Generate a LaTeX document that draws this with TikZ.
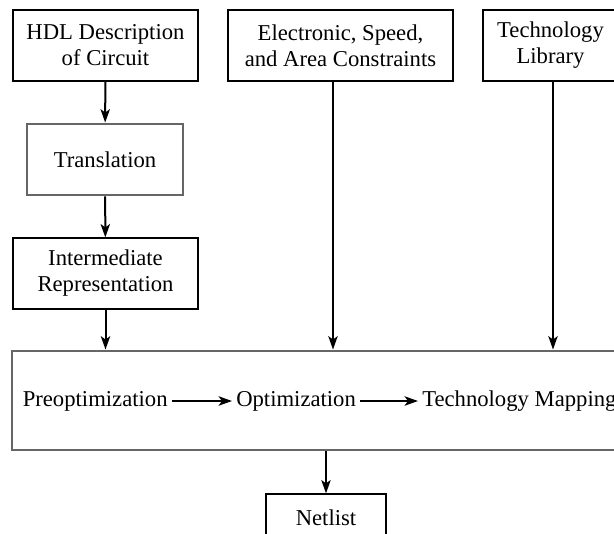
\documentclass[tikz,border=0pt]{standalone}
\usepackage{fontspec}
\setmainfont{Liberation Serif}
\usetikzlibrary{arrows.meta}
\begin{document}
\begin{tikzpicture}[x=0.75pt,y=-0.75pt,
  txt/.style={font=\fontsize{17}{19.5}\selectfont},
  box/.style={txt,draw=black,line width=0.9pt,align=center,inner sep=0pt},
  graybox/.style={txt,draw=black!60,line width=2.2pt,align=center,inner sep=0pt},
  arr/.style={-{Stealth[length=10pt,width=7pt,inset=2.5pt]},line width=1.5pt},
  lbl/.style={txt,inner sep=3pt}]
\useasboundingbox (0,0) rectangle (614,533);
\clip (0,0) rectangle (614,533);
\node[box,minimum width={185*0.75pt},minimum height={71*0.75pt}] (hdl) at (105.5,45.5) {HDL Description\\of Circuit};
\node[box,minimum width={225*0.75pt},minimum height={71*0.75pt}] (elec) at (340.5,45.5) {Electronic, Speed,\\and Area Constraints};
\node[box,minimum width={135*0.75pt},minimum height={71*0.75pt}] (tech) at (550.5,45.5) {Technology\\Library};
\node[graybox,minimum width={156*0.75pt},minimum height={71*0.75pt}] (trans) at (105,159.5) {Translation};
\node[box,minimum width={185*0.75pt},minimum height={71*0.75pt}] (inter) at (105.5,273.5) {Intermediate\\Representation};
\node[graybox,minimum width={700*0.75pt},minimum height={99*0.75pt}] (big) at (362,400.5) {};
\node[box,minimum width={120*0.75pt},minimum height={48*0.75pt}] (net) at (326,518) {Netlist};
\node[lbl,anchor=west] (pre) at (18.5,401) {Preoptimization};
\node[lbl,anchor=west] (opt) at (232,401) {Optimization};
\node[lbl,anchor=west] (tm) at (418,401) {Technology Mapping};
\coordinate (ex) at (333,0);
\coordinate (tx) at (553,0);
\draw[arr] (hdl) -- (trans);
\draw[arr] (trans) -- (inter);
\draw[arr] (inter) -- (inter.south |- big.north);
\draw[arr] (ex |- elec.south) -- (ex |- big.north);
\draw[arr] (tx |- tech.south) -- (tx |- big.north);
\draw[arr] (pre) -- (opt);
\draw[arr] (opt) -- (tm);
\draw[arr] (net.north |- big.south) -- (net);
\end{tikzpicture}
\end{document}
